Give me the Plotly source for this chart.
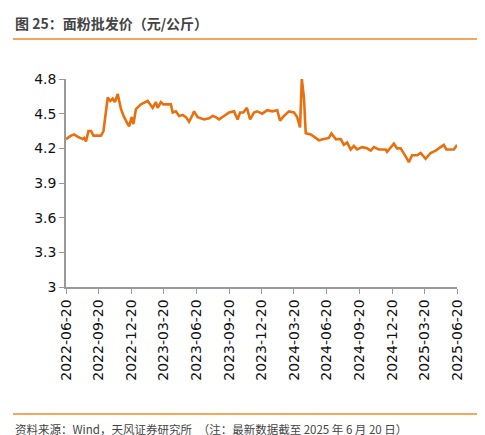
import pandas as pd
import plotly.graph_objects as go

day_offsets = [0,14,23,33,47,51,56,63,70,77,98,105,112,117,124,131,137,145,154,163,173,177,184,189,196,210,229,243,252,257,266,273,285,294,299,308,317,327,336,345,355,359,369,387,401,411,420,429,443,457,471,481,488,497,507,516,527,536,550,564,578,592,600,611,625,639,648,656,661,667,672,686,700,709,723,737,744,756,770,779,788,798,807,816,830,844,854,863,877,896,900,910,919,928,938,952,961,970,984,994,1008,1022,1036,1050,1059,1066,1078,1087,1096]
prices = [4.28,4.31,4.32,4.30,4.28,4.29,4.26,4.35,4.35,4.31,4.31,4.35,4.52,4.64,4.61,4.63,4.60,4.67,4.54,4.47,4.41,4.39,4.47,4.41,4.54,4.58,4.61,4.55,4.60,4.55,4.60,4.58,4.58,4.58,4.51,4.52,4.48,4.49,4.47,4.43,4.49,4.52,4.47,4.45,4.46,4.48,4.47,4.45,4.48,4.51,4.52,4.45,4.51,4.51,4.55,4.45,4.51,4.52,4.50,4.53,4.52,4.53,4.44,4.48,4.52,4.51,4.47,4.38,4.80,4.64,4.33,4.32,4.29,4.27,4.28,4.29,4.33,4.28,4.28,4.23,4.25,4.19,4.22,4.19,4.21,4.20,4.18,4.21,4.19,4.19,4.17,4.21,4.24,4.20,4.20,4.13,4.08,4.14,4.14,4.16,4.11,4.16,4.18,4.21,4.23,4.19,4.19,4.19,4.23]
tick_labels = ["2022-06-20","2022-09-20","2022-12-20","2023-03-20","2023-06-20","2023-09-20","2023-12-20","2024-03-20","2024-06-20","2024-09-20","2024-12-20","2025-03-20","2025-06-20"]
y_ticks = [3, 3.3, 3.6, 3.9, 4.2, 4.5, 4.8]

start = pd.Timestamp("2022-06-20")
dates = [start + pd.Timedelta(days=d) for d in day_offsets]

FONT = "Noto Sans CJK SC"
PW, PH = 391, 208
fig = go.Figure(go.Scatter(x=dates, y=prices, mode="lines",
                           line=dict(color="#E8700F", width=2.6)))
fig.update_layout(
    width=485, height=435, paper_bgcolor="white", plot_bgcolor="white",
    margin=dict(l=58, r=36, t=71, b=156, autoexpand=False), showlegend=False,
    font=dict(family=FONT, color="#222"),
    xaxis=dict(range=[tick_labels[0], tick_labels[-1]], tickvals=tick_labels, ticktext=tick_labels,
               tickangle=-90, showgrid=False, showline=True, linecolor="#999", linewidth=1.5, automargin=False,
               ticks="outside", tickcolor="#999", ticklen=5, tickfont=dict(size=14, family="DejaVu Sans", color="#111")),
    yaxis=dict(range=[3, 4.8], tickvals=y_ticks, ticktext=[str(v) for v in y_ticks], showgrid=False, automargin=False,
               showline=True, linecolor="#999", linewidth=1.5, ticks="outside", tickcolor="#999", ticklen=5,
               tickfont=dict(size=14, family="DejaVu Sans", color="#111"), zeroline=False),
    annotations=[
        dict(text="<b>图 25：面粉批发价（元/公斤）</b>", xref="paper", yref="paper", x=-53/PW, y=1 + (71-15)/PH,
             xanchor="left", yanchor="middle", showarrow=False, font=dict(size=14, color="#444", family=FONT)),
        dict(text="资料来源：Wind，天风证券研究所　（注：最新数据截至 2025 年 6 月 20 日）", xref="paper", yref="paper",
             x=-53/PW, y=-(421-279)/PH, xanchor="left", yanchor="middle", showarrow=False,
             font=dict(size=11.5, color="#444", family=FONT)),
    ],
)
for ypix in (31, 406):
    yp = (279 - ypix) / PH
    fig.add_shape(type="line", xref="paper", yref="paper", x0=-53/PW, x1=(480-58)/PW, y0=yp, y1=yp,
                  line=dict(color="#F08A24", width=1.5))
fig.write_html("out.html")
